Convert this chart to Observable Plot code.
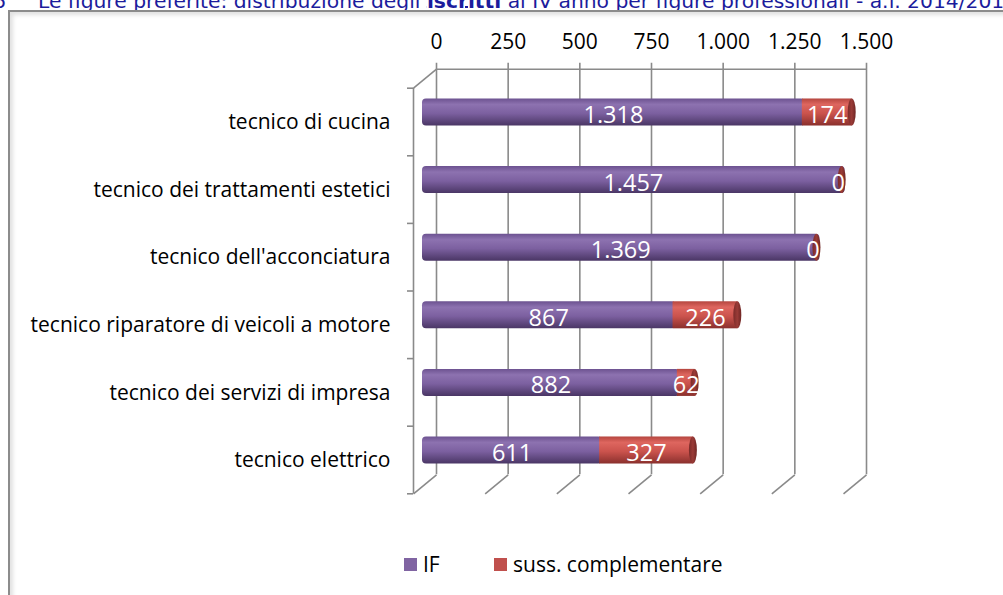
<!DOCTYPE html>
<html><head><meta charset="utf-8">
<script src="https://cdn.jsdelivr.net/npm/d3@7"></script>
<script src="https://cdn.jsdelivr.net/npm/@observablehq/plot@0.6"></script>
<style>
html,body{margin:0;overflow:hidden;scrollbar-width:none}
::-webkit-scrollbar{display:none;width:0;height:0}
body{width:1003px;height:595px;background:#fff;position:relative;font-family:"Open Sans",sans-serif}
#title{position:absolute;left:0;top:-10px;width:1003px;height:22px;overflow:hidden;white-space:nowrap;font-family:"DejaVu Sans",sans-serif;font-size:20.3px;line-height:22px;color:#1c1c9c}
#title span{position:absolute;top:0}
#title u{text-underline-offset:-2px}
#frame{position:absolute;left:8px;top:10px;width:1100px;height:700px;border:2px solid #8c8c8c;box-shadow:inset 3px 3px 4px rgba(0,0,0,0.12)}
#clip{position:absolute;left:0;top:0;width:1003px;height:595px;overflow:hidden}
#chart{position:absolute;left:0;top:0}
#legend{position:absolute;left:0;top:552px;width:1003px;height:26px;font-size:21px;color:#000}
#legend .sw{position:absolute;top:6px;width:13px;height:13px}
#legend .lb{position:absolute;top:-1px;line-height:26px;white-space:nowrap}
</style>
</head><body>
<div id="clip">
<div id="title"><span style="left:-7px">6</span><span style="left:38px">Le figure preferite: distribuzione degli <b><u>iscritti</u></b> al IV anno per figure professionali - a.f. 2014/2015</span></div>
<div id="frame"></div>
<div id="chart"></div>
<div id="legend"></div>
</div>
<script>
// ---- data ----
const categories = ["tecnico di cucina","tecnico dei trattamenti estetici","tecnico dell'acconciatura","tecnico riparatore di veicoli a motore","tecnico dei servizi di impresa","tecnico elettrico"];
const ifValues = [1318,1457,1369,867,882,611];
const sussValues = [174,0,0,226,62,327];
const seriesNames = ["IF","suss. complementare"];
const seriesColors = ["#8064a2","#c0504d"];
const xTicks = [0,250,500,750,1000,1250,1500];

const fmt = d3.formatLocale({decimal:",", thousands:".", grouping:[3], currency:["€",""]}).format(",d");
const rows = categories.map((c,i)=>({c, i, a: ifValues[i], b: sussValues[i]}));

// layout
const X0 = 424, X1 = 854, Y0 = 78.2, Y1 = 483.8;
const xMax = xTicks[xTicks.length-1];
const kx = xMax/(X1-X0), ky = categories.length/(Y1-Y0);
const back = {dx:12, dy:-9.5}, front = {dx:-11, dy:9.5};
const depthX = -23*kx, depthY = 19*ky;
const yTop = -0.5, yBot = categories.length-0.5;
const bounds = d3.range(categories.length+1).map(i=>i-0.5);
const half = 0.2;
const axisStroke = {stroke:"#8a8a8a", strokeWidth:1.6};

const chart = Plot.plot({
  width:1003, height:595,
  x:{domain:[0,xMax], range:[X0,X1], axis:null},
  y:{domain:[yTop,yBot], range:[Y0,Y1], axis:null},
  style:{fontFamily:"'Open Sans', sans-serif", background:"transparent", overflow:"visible"},
  marks:[
    Plot.ruleX(xTicks, {x:d=>d, y1:yTop, y2:yBot, ...back, insetTop:-6, ...axisStroke}),
    Plot.ruleY([yTop], {x1:0, x2:xMax, ...back, ...axisStroke}),
    Plot.link(xTicks, {x1:d=>d, x2:d=>d+depthX, y1:yBot, y2:yBot+depthY, ...back, ...axisStroke}),
    Plot.link([0], {x1:0, x2:depthX, y1:yTop, y2:yTop+depthY, ...back, ...axisStroke}),
    Plot.ruleX([0], {y1:yTop, y2:yBot, ...front, ...axisStroke}),
    Plot.ruleY(bounds, {x1:0, x2:0, ...front, insetLeft:-6, ...axisStroke}),
    Plot.text(xTicks, {x:d=>d, y:yTop, text:fmt, dx:12, dy:-36, fontSize:21, fill:"#000"}),
    Plot.text(rows, {x:0, y:"i", text:"c", textAnchor:"end", dx:-34, dy:10, fontSize:21, fill:"#000"}),
    Plot.rect(rows, {x1:0, x2:"a", y1:d=>d.i-half, y2:d=>d.i+half, insetLeft:-2, insetRight:-3, fill:"url(#gP)", rx:4}),
    Plot.rect(rows, {x1:"a", x2:d=>d.a+d.b, y1:d=>d.i-half, y2:d=>d.i+half, fill:"url(#gR)"}),
    Plot.rect(rows, {x1:d=>d.a+d.b, x2:d=>d.a+d.b, y1:d=>d.i-half, y2:d=>d.i+half, insetLeft:-4, insetRight:-4, rx:4, ry:13.5, fill:"url(#gC)"}),
    Plot.text(rows, {x:d=>d.a/2, y:"i", text:d=>fmt(d.a), fill:"#fff", fontSize:23.5, dy:3}),
    Plot.text(rows, {x:d=>d.b===0 ? d.a-4*kx : d.a+d.b/2, y:"i", text:d=>fmt(d.b), fill:"#fff", fontSize:23.5, dy:3})
  ]
});

const defs = `<defs>
<linearGradient id="gP" x1="0" y1="0" x2="0" y2="1">
<stop offset="0" stop-color="#6c5290"/><stop offset="0.22" stop-color="#8d72b0"/><stop offset="0.55" stop-color="#7c60a0"/><stop offset="1" stop-color="#4a3665"/></linearGradient>
<linearGradient id="gR" x1="0" y1="0" x2="0" y2="1">
<stop offset="0" stop-color="#b5463f"/><stop offset="0.22" stop-color="#de665f"/><stop offset="0.55" stop-color="#cb534d"/><stop offset="1" stop-color="#8a302d"/></linearGradient>
<linearGradient id="gC" x1="0" y1="0" x2="1" y2="0">
<stop offset="0" stop-color="#7a2b29"/><stop offset="0.5" stop-color="#9a3b37"/><stop offset="1" stop-color="#6e2624"/></linearGradient>
</defs>`;
chart.insertAdjacentHTML("afterbegin", defs);
document.getElementById("chart").appendChild(chart);

// legend
const lg = document.getElementById("legend");
const lx = [404, 494];
seriesNames.forEach((n,k)=>{
  const s = document.createElement("div"); s.className="sw"; s.style.left=lx[k]+"px"; s.style.background=seriesColors[k]; lg.appendChild(s);
  const t = document.createElement("div"); t.className="lb"; t.style.left=(lx[k]+19)+"px"; t.textContent=n; lg.appendChild(t);
});
</script>
</body></html>
